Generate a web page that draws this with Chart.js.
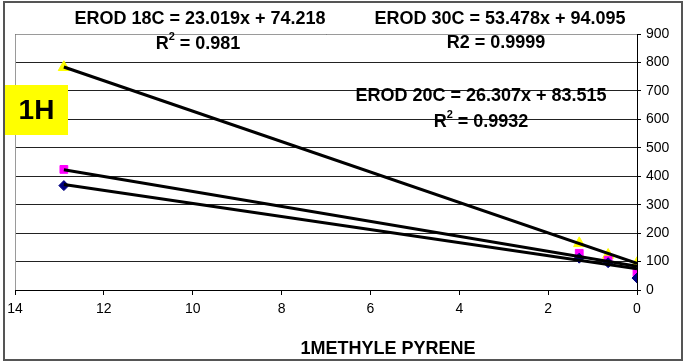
<!DOCTYPE html>
<html>
<head>
<meta charset="utf-8">
<script src="https://cdn.jsdelivr.net/npm/chart.js@4/dist/chart.umd.min.js"></script>
<style>
  html, body { margin: 0; padding: 0; background: #fff; }
  #wrap { width: 684px; height: 362px; }
</style>
</head>
<body>
<div id="wrap"><canvas id="c" width="684" height="362"></canvas></div>
<script>
// ---- data ----
const concentrations = [12.9, 1.3, 0.65, 0];          // 1-methyl pyrene (x)
const erod18C = [367, 112, 96, 42];
const erod20C = [424, 129, 105, 61];
const erod30C = [783, 164, 123, 94];
// trendline coefficients as printed on the chart [slope, intercept]
const trend18C = [23.019, 74.218];
const trend20C = [26.307, 83.515];
const trend30C = [53.478, 94.095];
const xTickLabels = [14, 12, 10, 8, 6, 4, 2, 0];
const yTickLabels = [0, 100, 200, 300, 400, 500, 600, 700, 800, 900];
const panelLabel = '1H';
const xTitle = '1METHYLE PYRENE';
const annotations = [
  { text: 'EROD 18C = 23.019x + 74.218', x: 200, y: 19 },
  { text: 'R', sup: '2', rest: ' = 0.981', x: 198, y: 44 },
  { text: 'EROD 30C = 53.478x + 94.095', x: 500, y: 19 },
  { text: 'R2 = 0.9999', x: 496, y: 43 },
  { text: 'EROD 20C = 26.307x + 83.515', x: 481, y: 96 },
  { text: 'R', sup: '2', rest: ' = 0.9932', x: 481, y: 122 }
];

function pts(xs, ys) { return xs.map((x, i) => ({ x: x, y: ys[i] })); }
function trendPts(coef) {
  const xs = [Math.max(...concentrations), Math.min(...concentrations)];
  return xs.map(x => ({ x: x, y: coef[0] * x + coef[1] }));
}

const FONT = '"Liberation Sans", Arial, sans-serif';
const EQ = 'bold 18px ' + FONT;
const SUP = 'bold 11px ' + FONT;

const decor = {
  id: 'decor',
  beforeDatasetsDraw(chart) {
    const { ctx, chartArea: a } = chart;
    ctx.save();
    ctx.strokeStyle = '#9a9a9a';
    ctx.lineWidth = 1;
    ctx.beginPath();
    ctx.moveTo(a.left + 0.5, a.bottom);
    ctx.lineTo(a.left + 0.5, a.top + 0.5);
    ctx.lineTo(a.right, a.top + 0.5);
    ctx.stroke();
    ctx.restore();
  },
  afterDraw(chart) {
    const { ctx } = chart;
    ctx.save();
    // outer border
    ctx.strokeStyle = '#555';
    ctx.lineWidth = 2;
    ctx.strokeRect(4, 2, 678, 358);
    // x axis title
    ctx.fillStyle = '#000';
    ctx.font = 'bold 18px ' + FONT;
    ctx.textAlign = 'center';
    ctx.textBaseline = 'middle';
    ctx.fillText(xTitle, 388, 349);
    // panel label
    ctx.fillStyle = '#ffff00';
    ctx.fillRect(5, 85, 63, 50);
    ctx.fillStyle = '#000';
    ctx.font = 'bold 28px ' + FONT;
    ctx.fillText(panelLabel, 36.5, 111);
    // equations
    annotations.forEach(an => {
      ctx.textBaseline = 'middle';
      if (an.sup) {
        ctx.font = EQ;
        const w1 = ctx.measureText(an.text).width;
        const w3 = ctx.measureText(an.rest).width;
        ctx.font = SUP;
        const w2 = ctx.measureText(an.sup).width;
        const x0 = an.x - (w1 + w2 + w3) / 2;
        ctx.textAlign = 'left';
        ctx.font = EQ;
        ctx.fillText(an.text, x0, an.y);
        ctx.font = SUP;
        ctx.fillText(an.sup, x0 + w1, an.y - 7);
        ctx.font = EQ;
        ctx.fillText(an.rest, x0 + w1 + w2, an.y);
      } else {
        ctx.font = EQ;
        ctx.textAlign = 'center';
        ctx.fillText(an.text, an.x, an.y);
      }
    });
    ctx.restore();
  }
};

new Chart(document.getElementById('c'), {
  type: 'scatter',
  data: {
    datasets: [
      { label: 'EROD 18C', data: pts(concentrations, erod18C), pointStyle: 'rectRot',
        backgroundColor: '#000080', borderColor: '#000080', pointRadius: 5, order: 2 },
      { label: 'EROD 20C', data: pts(concentrations, erod20C), pointStyle: 'rect',
        backgroundColor: '#ff00ff', borderColor: '#ff00ff', pointRadius: 5.5, order: 2 },
      { label: 'EROD 30C', data: pts(concentrations, erod30C), pointStyle: 'triangle',
        backgroundColor: '#ffff00', borderColor: '#ffff00', pointRadius: 6.5, order: 2 },
      { type: 'line', label: 'Trend 18C', data: trendPts(trend18C), borderColor: '#000',
        borderWidth: 3, pointRadius: 0, fill: false, order: 1 },
      { type: 'line', label: 'Trend 20C', data: trendPts(trend20C), borderColor: '#000',
        borderWidth: 3, pointRadius: 0, fill: false, order: 1 },
      { type: 'line', label: 'Trend 30C', data: trendPts(trend30C), borderColor: '#000',
        borderWidth: 3, pointRadius: 0, fill: false, order: 1 }
    ]
  },
  options: {
    responsive: false,
    devicePixelRatio: 1,
    animation: false,
    events: [],
    layout: { padding: { left: 15, top: 34, right: 0, bottom: 0 } },
    plugins: { legend: { display: false }, tooltip: { enabled: false } },
    scales: {
      x: {
        type: 'linear', reverse: true, min: 0, max: 14,
        afterBuildTicks(axis) { axis.ticks = xTickLabels.map(v => ({ value: v })); },
        afterFit(axis) { axis.height = 72; },
        grid: { drawOnChartArea: false, drawTicks: true, tickLength: 5, color: '#000' },
        border: { color: '#000', width: 1 },
        ticks: { color: '#000', font: { family: FONT, size: 14 }, padding: 6, maxRotation: 0 }
      },
      y: {
        type: 'linear', position: 'right', min: 0, max: 900,
        afterBuildTicks(axis) { axis.ticks = yTickLabels.map(v => ({ value: v })); },
        afterFit(axis) { axis.width = 47; },
        grid: { color: '#222', lineWidth: 1, drawTicks: true, tickLength: 4,
          tickColor: '#000' },
        border: { color: '#000', width: 1 },
        ticks: { color: '#000', font: { family: FONT, size: 14 }, padding: 5 }
      }
    }
  },
  plugins: [decor]
});
</script>
</body>
</html>
